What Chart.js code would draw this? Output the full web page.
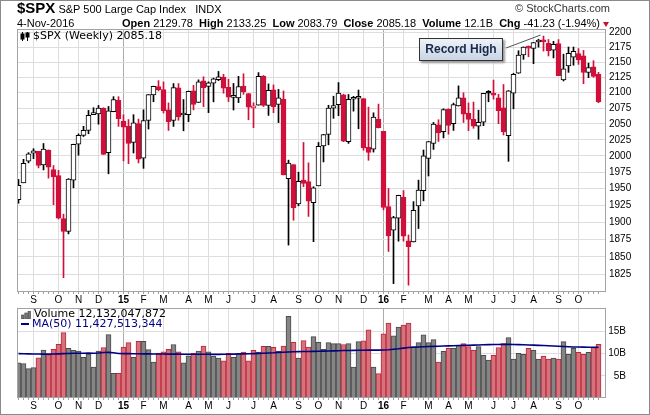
<!DOCTYPE html>
<html><head><meta charset="utf-8">
<script src="https://cdn.jsdelivr.net/npm/chart.js@4.4.0/dist/chart.umd.min.js"></script>
<style>
html,body{margin:0;padding:0;background:#fff;}
#wrap{position:relative;width:650px;height:415px;overflow:hidden;background:#fff;font-family:"Liberation Sans",Arial,sans-serif;color:#000;}
#border{position:absolute;left:0;top:0;width:648px;height:413px;border:1px solid #8a8a8a;pointer-events:none;}
canvas{position:absolute;left:0;}
#cPrice{top:0;}
#cVol{top:300px;}
.t{position:absolute;white-space:nowrap;}
#l1{left:17px;top:0px;font-size:11px;line-height:16px;}
#l1 .sym{font-weight:bold;font-size:15px;}
#copy{right:40px;top:2px;font-size:11px;color:#333;}
#date{left:17px;top:17px;font-size:11px;line-height:13px;}
#quote{right:50px;top:17px;font-size:11px;line-height:13px;}
#quote b{font-weight:bold;}
#tri{position:absolute;left:603px;top:22px;width:0;height:0;border-left:3px solid transparent;border-right:3px solid transparent;border-top:5px solid #c8102e;}
.leg{position:absolute;white-space:nowrap;font-family:"DejaVu Sans",Verdana,sans-serif;font-size:11px;line-height:11px;}
#pleg{left:33px;top:30px;}
#vleg{left:34px;top:308px;}
#maleg{left:32px;top:318px;color:#000080;}
#mal{position:absolute;left:21px;top:323px;width:8px;height:2px;background:#000080;}
#rec{position:absolute;left:419px;top:38px;width:82px;height:21px;border:1px solid #333;
 background:linear-gradient(#eef2f8,#c9d5e4);box-shadow:2px 2px 2px #9a9a9a;
 font:bold 12px "Liberation Sans",Arial,sans-serif;color:#17284a;text-align:center;line-height:21px;}
</style></head>
<body>
<div id="wrap">
<canvas id="cPrice" width="650" height="306"></canvas>
<canvas id="cVol" width="650" height="115"></canvas>
<div class="t" id="l1"><span class="sym">$SPX</span> S&amp;P 500 Large Cap Index&nbsp;&nbsp;&nbsp;INDX</div>
<div class="t" id="copy">© StockCharts.com</div>
<div class="t" id="date">4-Nov-2016</div>
<div class="t" id="quote"><b>Open</b> 2129.78 &nbsp;<b>High</b> 2133.25 &nbsp;<b>Low</b> 2083.79 &nbsp;<b>Close</b> 2085.18 &nbsp;<b>Volume</b> 12.1B &nbsp;<b>Chg</b> -41.23 (-1.94%)</div>
<div id="tri"></div>
<svg style="position:absolute;left:20px;top:32px" width="11" height="9"><g stroke="#000" stroke-width="1" fill="#000"><line x1="2.5" y1="0" x2="2.5" y2="9"/><rect x="1" y="2" width="3" height="5"/><line x1="7.5" y1="0" x2="7.5" y2="9"/><rect x="6" y="1" width="3" height="4"/></g></svg>
<div class="leg" id="pleg">$SPX (Weekly) 2085.18</div>
<svg style="position:absolute;left:21px;top:311px" width="10" height="8"><g fill="#777" stroke="#444" stroke-width="0.6"><rect x="0.5" y="4" width="2.5" height="4"/><rect x="3.8" y="2" width="2.5" height="6"/><rect x="7" y="0" width="2.5" height="8"/></g></svg>
<div class="leg" id="vleg">Volume 12,132,047,872</div>
<div id="mal"></div>
<div class="leg" id="maleg">MA(50) 11,427,513,344</div>
<div id="rec">Record High</div>
<div id="border"></div>
</div>
<script>
// ---------- DATA ----------
const weeks = [
'2014-08-15','2014-08-22','2014-08-29','2014-09-05','2014-09-12','2014-09-19','2014-09-26','2014-10-03','2014-10-10','2014-10-17',
'2014-10-24','2014-10-31','2014-11-07','2014-11-14','2014-11-21','2014-11-28','2014-12-05','2014-12-12','2014-12-19','2014-12-26',
'2015-01-02','2015-01-09','2015-01-16','2015-01-23','2015-01-30','2015-02-06','2015-02-13','2015-02-20','2015-02-27','2015-03-06',
'2015-03-13','2015-03-20','2015-03-27','2015-04-03','2015-04-10','2015-04-17','2015-04-24','2015-05-01','2015-05-08','2015-05-15',
'2015-05-22','2015-05-29','2015-06-05','2015-06-12','2015-06-19','2015-06-26','2015-07-03','2015-07-10','2015-07-17','2015-07-24',
'2015-07-31','2015-08-07','2015-08-14','2015-08-21','2015-08-28','2015-09-04','2015-09-11','2015-09-18','2015-09-25','2015-10-02',
'2015-10-09','2015-10-16','2015-10-23','2015-10-30','2015-11-06','2015-11-13','2015-11-20','2015-11-27','2015-12-04','2015-12-11',
'2015-12-18','2015-12-25','2016-01-01','2016-01-08','2016-01-15','2016-01-22','2016-01-29','2016-02-05','2016-02-12','2016-02-19',
'2016-02-26','2016-03-04','2016-03-11','2016-03-18','2016-03-25','2016-04-01','2016-04-08','2016-04-15','2016-04-22','2016-04-29',
'2016-05-06','2016-05-13','2016-05-20','2016-05-27','2016-06-03','2016-06-10','2016-06-17','2016-06-24','2016-07-01','2016-07-08',
'2016-07-15','2016-07-22','2016-07-29','2016-08-05','2016-08-12','2016-08-19','2016-08-26','2016-09-02','2016-09-09','2016-09-16',
'2016-09-23','2016-09-30','2016-10-07','2016-10-14','2016-10-21','2016-10-28','2016-11-04'];

const open = [
1933.43,1958.87,1991.74,2004.07,2007.17,1986.04,2009.08,1978.96,1970.01,1905.65,
1886.76,1962.97,2018.21,2032.01,2039.74,2064.69,2065.78,2074.84,2005.03,2069.28,
2087.63,2054.44,2046.13,2020.76,2050.42,1996.67,2055.47,2096.47,2109.83,2105.23,
2072.25,2055.35,2107.99,2064.11,2064.87,2102.94,2084.11,2119.29,2110.23,2115.56,
2121.30,2125.34,2108.64,2092.34,2091.34,2110.64,2098.63,2075.61,2080.03,2126.80,
2079.45,2104.49,2080.98,2089.70,1965.15,1986.73,1927.30,1963.06,1960.84,1929.18,
1954.33,2015.65,2033.47,2075.08,2080.76,2096.56,2022.08,2089.41,2090.95,2090.42,
2013.37,2010.27,2057.77,2038.20,1923.26,1888.66,1906.28,1936.94,1873.25,1871.44,
1924.44,1947.13,1996.11,2019.27,2048.64,2037.89,2073.19,2050.23,2078.83,2091.70,
2067.17,2057.55,2046.53,2052.65,2100.13,2099.25,2091.75,2075.58,2031.45,2099.34,
2131.72,2162.04,2173.71,2173.15,2183.74,2186.08,2181.58,2170.19,2181.30,2120.86,
2143.99,2158.54,2164.33,2160.39,2132.95,2142.51,2129.78];

const high = [
1964.04,1994.76,2005.04,2011.17,2007.17,2019.26,2009.28,1985.17,1977.84,1912.09,
1965.27,2018.19,2034.26,2046.18,2071.46,2075.76,2079.47,2075.78,2077.85,2093.55,
2093.55,2064.43,2056.93,2064.62,2057.62,2072.40,2097.03,2110.61,2119.59,2117.52,
2083.49,2114.86,2114.86,2088.97,2102.61,2111.91,2120.92,2125.92,2117.66,2123.89,
2134.72,2129.87,2121.92,2115.02,2126.65,2130.95,2098.63,2083.74,2132.82,2128.12,
2114.24,2112.66,2105.35,2102.87,1993.48,1986.73,1975.01,2020.86,1989.37,1953.00,
2020.86,2033.54,2079.74,2094.32,2116.48,2097.58,2097.06,2094.12,2104.27,2090.42,
2076.72,2067.65,2081.56,2038.20,1950.33,1908.85,1940.24,1947.20,1881.60,1930.68,
1962.96,2009.13,2022.37,2052.36,2056.60,2074.02,2074.02,2083.18,2111.05,2099.89,
2083.42,2084.87,2071.88,2099.06,2103.48,2120.55,2097.30,2113.32,2103.48,2131.71,
2169.05,2175.63,2177.09,2182.87,2188.45,2193.81,2187.94,2184.87,2187.87,2163.30,
2175.30,2175.30,2172.67,2169.60,2148.44,2152.49,2133.25];

const low = [
1928.29,1958.87,1989.24,1995.79,1981.55,1978.48,1965.99,1926.03,1905.03,1820.66,
1883.21,1951.37,2001.01,2030.17,2034.46,2064.69,2049.57,2002.33,1972.56,2069.28,
2046.04,1992.44,1988.12,2004.49,1989.18,1980.90,2041.88,2085.44,2103.00,2067.27,
2039.69,2046.04,2055.79,2039.12,2053.63,2072.38,2084.11,2077.52,2067.93,2085.19,
2119.65,2099.18,2085.67,2072.14,2084.02,2097.41,2056.64,2044.02,2079.88,2077.74,
2063.52,2067.91,2052.09,1970.89,1867.01,1903.07,1924.41,1953.03,1908.77,1871.91,
1954.33,1990.73,2017.22,2058.84,2063.09,2022.08,2019.39,2070.29,2042.35,2008.80,
1993.26,2005.93,2043.62,1918.46,1857.83,1812.29,1872.65,1872.65,1810.10,1871.44,
1891.00,1931.81,1969.25,2010.04,2022.49,2028.00,2033.80,2039.74,2078.45,2052.28,
2039.45,2043.13,2025.91,2047.26,2085.36,2089.59,2050.37,2032.57,1991.68,2074.02,
2131.52,2154.79,2159.07,2147.58,2175.13,2168.50,2160.39,2157.09,2127.81,2119.12,
2133.15,2145.04,2146.31,2114.72,2124.43,2125.16,2083.79];

const close = [
1955.06,1988.40,2003.37,2007.71,1985.54,2010.40,1982.85,1967.90,1906.13,1886.76,
1964.58,2018.05,2031.92,2039.82,2063.50,2067.56,2075.37,2002.33,2070.65,2088.77,
2058.20,2044.81,2019.42,2051.82,1994.99,2055.47,2096.99,2110.30,2104.50,2071.26,
2053.40,2108.10,2061.02,2066.96,2102.06,2081.18,2117.69,2108.29,2116.10,2122.73,
2126.06,2107.39,2092.83,2094.11,2109.99,2101.49,2076.78,2076.62,2126.64,2079.65,
2103.84,2077.57,2091.54,1970.89,1988.87,1921.22,1961.05,1958.03,1931.34,1951.36,
2014.89,2033.11,2075.15,2079.36,2099.20,2023.04,2089.17,2090.11,2091.69,2012.37,
2005.55,2060.99,2043.94,1922.03,1880.33,1906.90,1940.24,1880.05,1864.78,1917.78,
1948.05,1999.99,2022.19,2049.58,2035.94,2072.78,2047.60,2080.73,2091.58,2065.30,
2057.14,2046.61,2052.32,2099.06,2099.13,2096.07,2071.22,2037.41,2102.95,2129.90,
2161.74,2175.03,2173.60,2182.87,2184.05,2183.87,2169.04,2179.98,2127.81,2139.16,
2164.69,2168.27,2153.74,2132.98,2141.16,2126.41,2085.18];

const priorClose = 1931.59; // close of the week before the first bar

// weekly volume, billions of shares
const volume = [
7.96,7.74,6.64,6.86,9.06,10.8,9.8,11.0,12.1,14.76,
11.2,10.74,10.6,9.2,9.9,7.0,10.6,11.4,14.3,5.55,
5.55,11.5,12.5,9.2,12.8,12.8,10.9,8.1,10.15,10.4,
10.96,12.06,10.4,7.96,9.5,10.15,10.6,11.7,10.4,9.45,
9.0,8.4,10.08,9.2,10.1,10.35,8.4,10.75,10.35,11.65,
11.65,11.45,10.6,11.7,18.4,12.55,9.0,12.95,11.5,13.85,
12.55,10.96,12.5,12.28,12.28,12.06,12.28,7.0,12.7,12.9,
15.35,7.0,5.48,14.47,16.9,14.0,16.0,16.45,16.9,11.6,
12.5,14.25,12.5,13.16,8.1,10.5,11.18,11.18,11.84,12.28,
11.6,10.74,11.6,9.65,8.55,9.65,11.4,12.28,13.6,8.77,
10.08,9.87,11.18,10.74,8.77,9.43,8.77,8.99,8.77,12.7,
9.87,11.18,10.3,9.87,10.3,11.4,12.13];

// 50-period moving average of volume, billions
const volMA50 = [
10.0,9.98,9.95,9.93,9.92,9.9,9.9,9.92,9.95,10.0,
10.05,10.08,10.1,10.1,10.12,10.1,10.15,10.25,10.3,10.2,
10.05,10.0,10.0,9.98,9.97,9.96,9.95,9.93,9.92,9.92,
9.9,9.9,9.9,9.88,9.87,9.87,9.86,9.86,9.86,9.85,
9.85,9.86,9.88,9.9,9.92,9.95,9.98,10.02,10.06,10.1,
10.15,10.2,10.28,10.32,10.38,10.42,10.45,10.48,10.5,10.52,
10.55,10.58,10.6,10.63,10.66,10.7,10.72,10.74,10.76,10.78,
10.8,10.8,10.8,10.82,10.88,10.98,11.1,11.25,11.38,11.45,
11.5,11.55,11.6,11.64,11.68,11.72,11.76,11.8,11.84,11.88,
11.9,11.93,11.96,12.0,12.03,12.06,12.08,12.1,12.1,12.08,
12.05,12.0,11.96,11.92,11.88,11.83,11.78,11.72,11.66,11.6,
11.56,11.52,11.5,11.48,11.46,11.44,11.43];

const priceTicks = [1825,1850,1875,1900,1925,1950,1975,2000,2025,2050,2075,2100,2125,2150,2175,2200];
const volumeTicks = [5,10,15];
const monthLetters = ['J','F','M','A','M','J','J','A','S','O','N','D'];

// ---------- helpers ----------
const RED = '#d0103a', BLACK = '#000000';
const idx = weeks.map((_, i) => i);
const prevClose = i => (i === 0 ? priorClose : close[i - 1]);
const upWeek = i => close[i] >= prevClose(i);
const candleColor = i => upWeek(i) ? BLACK : RED;

// month ticks: week whose Monday is the first Monday of a month
const monthTicks = [];
idx.forEach(i => {
  const d = new Date(weeks[i] + 'T00:00:00Z');
  d.setUTCDate(d.getUTCDate() - 4);
  if (d.getUTCDate() <= 7) {
    const m = d.getUTCMonth();
    monthTicks.push({ value: i, label: m === 0 ? String(d.getUTCFullYear()).slice(2) : monthLetters[m], year: m === 0 });
  }
});
const tickInfo = v => monthTicks.find(t => t.value === v);

const FONT = '"Liberation Sans", Arial, sans-serif';
Chart.defaults.font.family = FONT;
Chart.defaults.font.size = 10;
Chart.defaults.color = '#000';

const GRID = '#dddddd', YEARGRID = '#ababab', FRAME = '#a3a3a3';

function xScale() {
  return {
    type: 'linear', min: -0.3, max: 117.3, offset: false,
    afterBuildTicks: s => { s.ticks = monthTicks.map(t => ({ value: t.value })); },
    afterFit: s => { s.height = 14; },
    grid: { offset: false, drawTicks: false, lineWidth: 1,
      color: ctx => (ctx.tick && tickInfo(ctx.tick.value) && tickInfo(ctx.tick.value).year) ? YEARGRID : GRID },
    border: { display: false },
    ticks: { autoSkip: false, maxRotation: 0, minRotation: 0, padding: 2,
      callback: v => { const t = tickInfo(v); return t ? t.label : ''; },
      font: ctx => ({ family: FONT, size: 10, weight: (ctx.tick && tickInfo(ctx.tick.value) && tickInfo(ctx.tick.value).year) ? 'bold' : 'normal' }) }
  };
}

const framePlugin = {
  id: 'frame',
  afterDraw(chart) {
    const { ctx, chartArea: ca, scales: { x } } = chart;
    ctx.save();
    ctx.strokeStyle = '#a0a0a0'; ctx.lineWidth = 1;
    ctx.beginPath();
    idx.forEach(i => {
      const px = x.getPixelForValue(i);
      ctx.moveTo(px, ca.bottom); ctx.lineTo(px, ca.bottom + 2);
    });
    ctx.stroke();
    ctx.strokeStyle = FRAME;
    ctx.strokeRect(ca.left + 0.5, ca.top + 0.5, ca.width, ca.height - 1);
    ctx.restore();
  }
};

const connectorPlugin = {
  id: 'connector',
  afterDatasetsDraw(chart) {
    const { ctx, scales: { x, y } } = chart;
    let iMax = 0;
    high.forEach((h, i) => { if (h > high[iMax]) iMax = i; });
    const px = x.getPixelForValue(iMax), py = y.getPixelForValue(high[iMax]);
    ctx.save();
    ctx.strokeStyle = '#555'; ctx.lineWidth = 1;
    ctx.beginPath(); ctx.moveTo(506, 48); ctx.lineTo(px - 3, py - 1); ctx.stroke();
    ctx.restore();
  }
};

// ---------- price chart ----------
new Chart(document.getElementById('cPrice'), {
  type: 'bar',
  data: {
    datasets: [
      { // bodies (drawn on top)
        data: idx.map(i => ({ x: i, y: [Math.min(open[i], close[i]), Math.max(open[i], close[i])] })),
        backgroundColor: idx.map(i => close[i] >= open[i] ? '#ffffff' : candleColor(i)),
        borderColor: idx.map(i => candleColor(i)),
        borderWidth: 1, borderSkipped: false, barThickness: 5, minBarLength: 2,
        grouped: false, clip: 0
      },
      { // wicks
        data: idx.map(i => ({ x: i, y: [low[i], high[i]] })),
        backgroundColor: idx.map(i => candleColor(i)),
        borderWidth: 0, barThickness: 1, grouped: false, clip: 0
      }
    ]
  },
  options: {
    responsive: false, animation: false, devicePixelRatio: 1, events: [],
    layout: { padding: { left: 17, top: 29, right: 0, bottom: 0 } },
    plugins: { legend: { display: false }, tooltip: { enabled: false } },
    scales: {
      x: xScale(),
      y: {
        type: 'logarithmic', position: 'right', min: 1800.6, max: 2205.8,
        afterBuildTicks: s => { s.ticks = priceTicks.map(v => ({ value: v })); },
        afterFit: s => { s.width = 45; },
        grid: { color: GRID, drawTicks: false },
        border: { display: false },
        ticks: { padding: 4, crossAlign: 'near', callback: v => String(v), font: { family: FONT, size: 10 } }
      }
    }
  },
  plugins: [framePlugin, connectorPlugin]
});

// ---------- volume chart ----------
new Chart(document.getElementById('cVol'), {
  type: 'bar',
  data: {
    datasets: [
      {
        type: 'line',
        data: idx.map(i => ({ x: i, y: volMA50[i] })),
        borderColor: '#000080', borderWidth: 1.6, pointRadius: 0, tension: 0, clip: 0
      },
      {
        data: idx.map(i => ({ x: i, y: volume[i] })),
        backgroundColor: idx.map(i => upWeek(i) ? '#858585' : '#d4737e'),
        borderColor: idx.map(i => upWeek(i) ? '#4a4a4a' : '#c0283a'),
        borderWidth: 1, barThickness: 5, grouped: false, clip: 0
      }
    ]
  },
  options: {
    responsive: false, animation: false, devicePixelRatio: 1, events: [],
    layout: { padding: { left: 17, top: 6, right: 24, bottom: 3 } },
    plugins: { legend: { display: false }, tooltip: { enabled: false } },
    scales: {
      x: xScale(),
      y: {
        type: 'linear', position: 'right', min: 0, max: 20.3,
        afterBuildTicks: s => { s.ticks = volumeTicks.map(v => ({ value: v })); },
        afterFit: s => { s.width = 21; },
        grid: { color: GRID, drawTicks: false },
        border: { display: false },
        ticks: { padding: 2, crossAlign: 'far', callback: v => v + 'B', font: { family: FONT, size: 10 } }
      }
    }
  },
  plugins: [framePlugin]
});
</script>
</body></html>
